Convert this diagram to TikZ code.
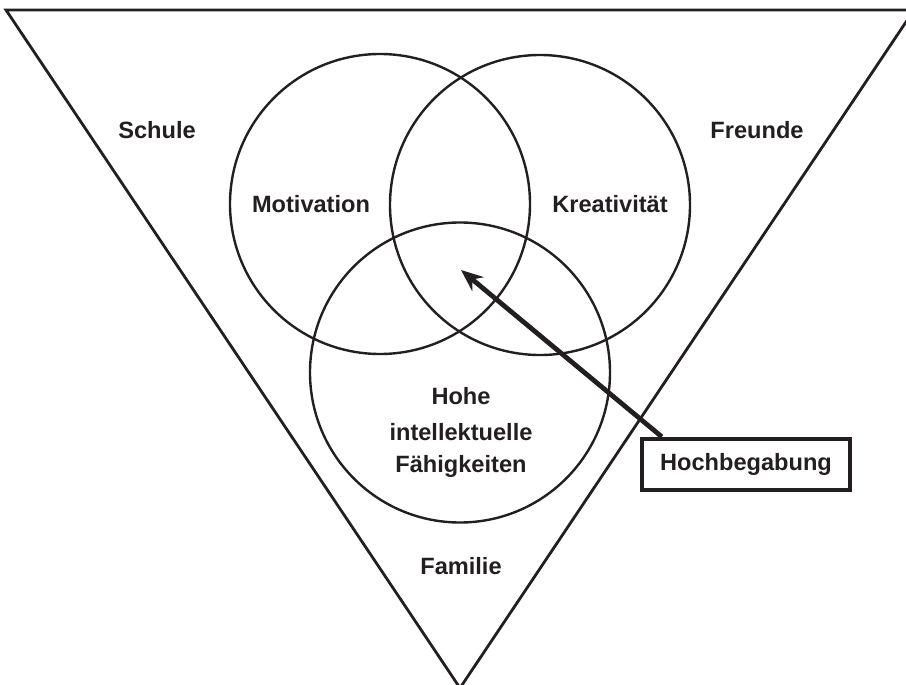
\documentclass[tikz,border=0pt]{standalone}
\usepackage{fontspec}
\setmainfont{Liberation Sans}
\usetikzlibrary{arrows.meta}
\definecolor{ink}{HTML}{231F20}
\begin{document}
\begin{tikzpicture}[x=0.5pt, y=-0.5pt]
  \useasboundingbox (0,0) rectangle (906,685);

  \tikzstyle{ring}=[circle, draw=ink, line width=1.2pt, minimum size=150pt, inner sep=0pt]
  \tikzstyle{word}=[text=ink, font=\fontsize{11.8}{13}\selectfont\bfseries, inner sep=0pt]
  \tikzstyle{frame}=[draw=ink, line width=2.2pt, minimum width=104pt, minimum height=25.5pt]

  % umfeld
  \coordinate (tl) at (6,10);
  \coordinate (tr) at (914,10);
  \coordinate (apex) at (460,688);
  \draw[ink, line width=1.4pt, line join=miter] (tl) -- (tr) -- (apex) -- cycle;

  % drei ringe
  \node[ring] (moti) at (380,204) {};
  \node[ring] (krea) at (540,205) {};
  \node[ring] (hohe) at (460,372.5) {};

  \node[word] (schule) at (157,130) {Schule};
  \node[word] (freunde) at (757,130) {Freunde};
  \node[word] (motilabel) at (311,204) {Motivation};
  \node[word] (krealabel) at (610,204) {Kreativität};
  \node[word] (h1) at (461,396) {Hohe};
  \node[word] (h2) at (461,432) {intellektuelle};
  \node[word] (h3) at (461,466) {Fähigkeiten};
  \node[word] (familie) at (461,566) {Familie};

  \node[frame, word] (box) at (746,464.5) {Hochbegabung};

  \coordinate (tail) at ([xshift=11pt]box.north west);
  \coordinate (tip) at (461,270);
  \draw[ink, line width=2.4pt, -{Stealth[length=11pt, width=9pt]}] (tail) -- (tip);
\end{tikzpicture}
\end{document}
